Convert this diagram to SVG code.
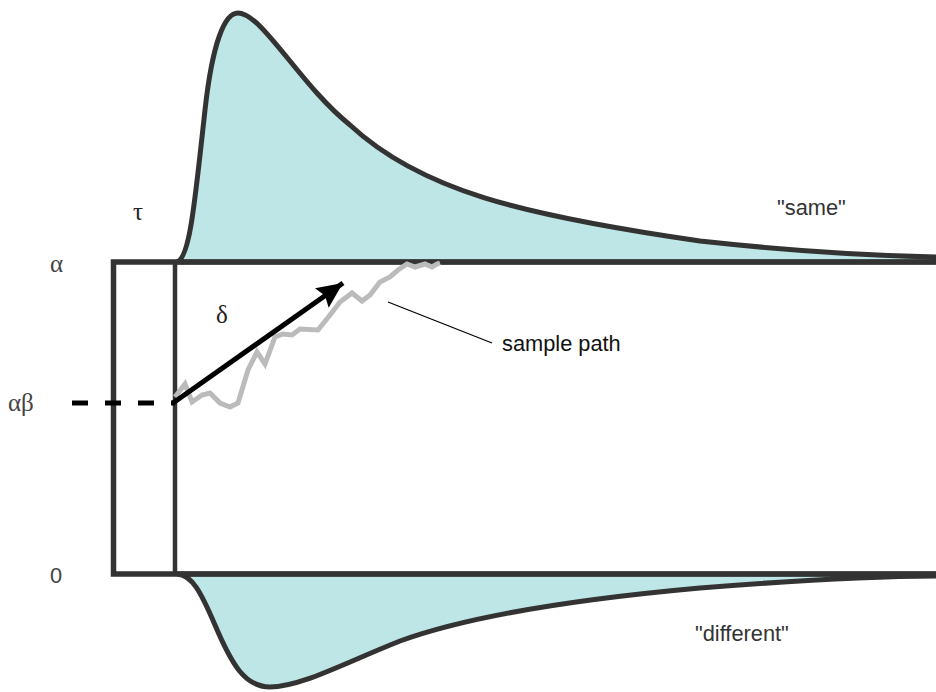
<svg xmlns="http://www.w3.org/2000/svg" width="936" height="692" viewBox="0 0 936 692">
<style>
.dist{fill:#bee6e6;stroke:#333;stroke-width:5;stroke-linejoin:round}
.box{fill:none;stroke:#333;stroke-width:5.5;stroke-linecap:butt}
.greek{font-family:"Liberation Serif","DejaVu Serif",serif;font-size:25px}
.sans{font-family:"Liberation Sans",Arial,sans-serif;font-size:21.8px}
</style>
<defs>
<marker id="ah" markerUnits="userSpaceOnUse" markerWidth="30" markerHeight="26" refX="26" refY="12" orient="auto">
<path d="M0,0 L26,12 L0,24 L4,12 Z" fill="#000"/>
</marker>
</defs>
<rect width="936" height="692" fill="#fff"/>
<g id="same-dist">
<path class="dist" d="M177,262 C190,258 195,200 205,110 C210,65 220,13 238,13 C262,13 300,85 350,125 C420,190 520,215 700,241 C800,252 880,256 940,257 L940,262 Z"/>
</g>
<g id="different-dist">
<path class="dist" d="M178,574 C192,576 200,590 215,625 C232,665 245,687 270,687 C300,687 340,665 400,641 C480,612 600,597 700,588 C800,580 870,576 940,576 L940,574 Z"/>
</g>
<g id="boundaries">
<path class="box" d="M940,262 L113.5,262 L113.5,574 L940,574"/>
<line x1="175" y1="262" x2="175" y2="574" stroke="#333" stroke-width="4.5"/>
</g>
<g id="connectors">
<line x1="72" y1="403" x2="175" y2="403" stroke="#000" stroke-width="5" stroke-dasharray="16 17"/>
<polyline fill="none" stroke="#bbb" stroke-width="5" stroke-linejoin="miter" points="175,397 185,384 192,402 202,395 210,393 220,403 230,407 238,403 248,370 257,352 265,364 275,337 283,334 292,335 300,329 318,330 330,315 340,302 352,293 362,301 370,295 380,282 390,277 398,270 407,264 415,267 425,264 432,267 437,264 440,263"/>
<line x1="173" y1="403" x2="343" y2="283" stroke="#000" stroke-width="5" marker-end="url(#ah)"/>
<line x1="388" y1="302" x2="492" y2="343" stroke="#000" stroke-width="1.3"/>
</g>
<g id="labels">
<text class="greek" x="50" y="272" fill="#444">α</text>
<text class="greek" x="8" y="411" fill="#444">αβ</text>
<text class="greek" x="133" y="220" fill="#222">τ</text>
<text class="greek" x="216" y="323" fill="#222">δ</text>
<text class="sans" x="50" y="583" fill="#444">0</text>
<text class="sans" x="502" y="351" fill="#111">sample path</text>
<text class="sans" x="777" y="215" fill="#333">"same"</text>
<text class="sans" x="695" y="641" fill="#333">"different"</text>
</g>
</svg>
